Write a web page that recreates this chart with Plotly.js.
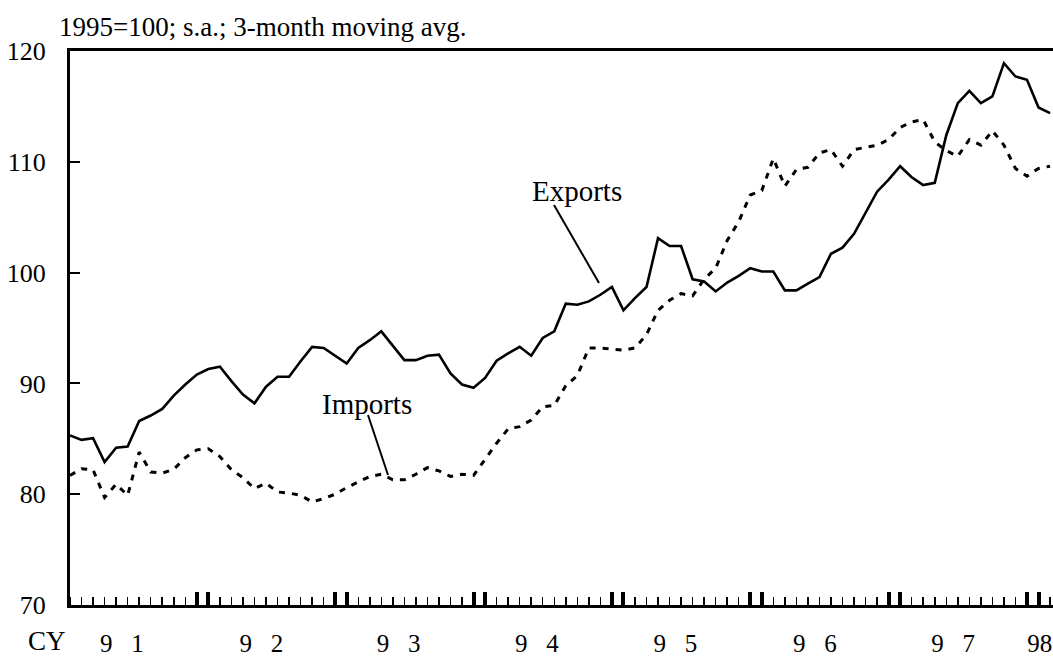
<!DOCTYPE html>
<html>
<head>
<meta charset="utf-8">
<script src="https://cdn.plot.ly/plotly-3.0.1.min.js"></script>
<style>
html, body { margin: 0; padding: 0; overflow: hidden; background: #fff; width: 1053px; height: 659px; }
#chart { width: 1075px; height: 659px; }
</style>
</head>
<body>
<div id="chart"></div>
<script>
// ---- Data (monthly, Jan 1991 – Feb 1998), 1995=100, s.a., 3-month moving avg. ----
const startYear = 1991;
const monthCount = 86;
const months = Array.from({length: monthCount}, (_, i) =>
  (startYear + Math.floor(i / 12)) + '-' + String(i % 12 + 1).padStart(2, '0'));

const exportsIdx = [
  85.3, 84.9, 85.05, 82.9, 84.2, 84.3, 86.6, 87.1, 87.7, 88.9,
  89.9, 90.8, 91.3, 91.5, 90.2, 89.0, 88.2, 89.7, 90.6, 90.6,
  92.0, 93.3, 93.2, 92.5, 91.8, 93.2, 93.9, 94.7, 93.4, 92.1,
  92.1, 92.5, 92.6, 90.9, 89.9, 89.6, 90.5, 92.05, 92.7, 93.3,
  92.5, 94.1, 94.7, 97.2, 97.1, 97.4, 98.0, 98.7, 96.6, 97.7,
  98.7, 103.1, 102.4, 102.4, 99.4, 99.2, 98.3, 99.1, 99.7, 100.4,
  100.1, 100.1, 98.4, 98.4, 99.0, 99.6, 101.7, 102.25, 103.5, 105.35,
  107.3, 108.4, 109.6, 108.6, 107.9, 108.1, 112.4, 115.3, 116.4, 115.3,
  115.9, 118.9, 117.7, 117.4, 114.9, 114.4
];

const importsIdx = [
  81.7, 82.3, 82.2, 79.7, 80.9, 79.9, 83.8, 82.0, 81.9, 82.25,
  83.3, 84.0, 84.1, 83.4, 82.2, 81.5, 80.5, 81.0, 80.2, 80.1,
  79.9, 79.3, 79.6, 80.0, 80.6, 81.1, 81.6, 81.8, 81.3, 81.3,
  81.8, 82.4, 82.1, 81.6, 81.8, 81.7, 83.2, 84.6, 85.9, 86.1,
  86.7, 87.9, 88.0, 89.8, 90.7, 93.2, 93.2, 93.1, 93.0, 93.2,
  94.4, 96.6, 97.5, 98.1, 97.9, 99.4, 100.4, 102.9, 104.6, 107.0,
  107.4, 110.3, 107.8, 109.3, 109.5, 110.8, 111.1, 109.6, 111.1, 111.3,
  111.5, 112.0, 113.1, 113.6, 113.8, 111.8, 111.0, 110.5, 112.0, 111.5,
  112.8, 111.5, 109.4, 108.7, 109.4, 109.6
];

const yearLabels = ['9\u00a0\u00a0\u00a01', '9\u00a0\u00a0\u00a02', '9\u00a0\u00a0\u00a03', '9\u00a0\u00a0\u00a04',
                    '9\u00a0\u00a0\u00a05', '9\u00a0\u00a0\u00a06', '9\u00a0\u00a0\u00a07', '98'];
const yearLabelPos = [4.5, 16.6, 28.5, 40.5, 52.5, 64.6, 76.6, 84.1];
const yTicks = [70, 80, 90, 100, 110, 120];

// ---- derived ----
const xIdx = months.map((_, i) => i);
const monthTicks = xIdx.concat([86]);
const yearTicks = [0];
for (let y = 1; y < 8; y++) { yearTicks.push(12 * y - 1, 12 * y); }

// pixel helpers for text/callouts (plot area: left 70..1065, top 51..605)
const L = 70, R = 1065, T = 51, B = 605;
const px = v => (v - L) / (R - L);
const py = v => (B - v) / (B - T);

const font = '"Liberation Serif", "Times New Roman", Times, serif';

const traces = [
  { x: xIdx, y: exportsIdx, type: 'scatter', mode: 'lines', name: 'Exports',
    line: { color: '#000', width: 2.6 }, hoverinfo: 'skip' },
  { x: xIdx, y: importsIdx, type: 'scatter', mode: 'lines', name: 'Imports',
    line: { color: '#000', width: 3, dash: '6px,7px' }, hoverinfo: 'skip' },
  { x: [0], y: [70], xaxis: 'x2', yaxis: 'y', type: 'scatter', mode: 'markers',
    marker: { opacity: 0 }, hoverinfo: 'skip', showlegend: false }
];

const xRange = [0, (R - L) / 11.53];

const layout = {
  width: 1075, height: 659,
  margin: { l: L, r: 1075 - R, t: T, b: 659 - B, pad: 0 },
  paper_bgcolor: '#fff', plot_bgcolor: '#fff',
  showlegend: false,
  font: { family: font, size: 26, color: '#000' },
  xaxis: {
    range: xRange, showgrid: false, zeroline: false,
    showline: true, linewidth: 3, linecolor: '#000', mirror: true,
    tickmode: 'array', tickvals: yearLabelPos, ticktext: yearLabels,
    ticks: '', ticklabelstandoff: 14,
    tickfont: { family: font, size: 25, color: '#000' },
    minor: { tickmode: 'array', tickvals: monthTicks, ticks: 'inside', ticklen: 8, tickwidth: 1.5, tickcolor: '#000', showgrid: false }
  },
  xaxis2: {
    range: xRange, overlaying: 'x', anchor: 'y', side: 'bottom',
    showgrid: false, zeroline: false, showline: false,
    tickmode: 'array', tickvals: yearTicks, ticks: 'inside', ticklen: 13, tickwidth: 4, tickcolor: '#000',
    showticklabels: false
  },
  yaxis: {
    range: [70, 120], showgrid: false, zeroline: false,
    showline: true, linewidth: 3, linecolor: '#000', mirror: true,
    tickmode: 'array', tickvals: yTicks, ticktext: yTicks.map(String),
    ticks: 'inside', ticklen: 10, tickwidth: 2, tickcolor: '#000',
    ticklabelstandoff: 16,
    tickfont: { family: font, size: 26, color: '#000' }
  },
  annotations: [
    { text: '1995=100; s.a.; 3-month moving avg.', xref: 'paper', yref: 'paper',
      x: px(57), y: py(27), xanchor: 'left', yanchor: 'middle', showarrow: false,
      font: { family: font, size: 27, color: '#000' } },
    { text: 'CY', xref: 'paper', yref: 'paper',
      x: px(26), y: py(658), xanchor: 'left', yanchor: 'bottom', showarrow: false,
      font: { family: font, size: 27, color: '#000' } },
    { text: 'Exports', xref: 'paper', yref: 'paper',
      x: px(530), y: py(191), xanchor: 'left', yanchor: 'middle', showarrow: false,
      font: { family: font, size: 29, color: '#000' } },
    { text: 'Imports', xref: 'paper', yref: 'paper',
      x: px(320), y: py(404), xanchor: 'left', yanchor: 'middle', showarrow: false,
      font: { family: font, size: 29, color: '#000' } }
  ],
  shapes: [
    { type: 'line', xref: 'paper', yref: 'paper', x0: px(554), y0: py(205), x1: px(599), y1: py(283),
      line: { color: '#000', width: 2 } },
    { type: 'line', xref: 'paper', yref: 'paper', x0: px(368), y0: py(415), x1: px(388), y1: py(475),
      line: { color: '#000', width: 2 } }
  ]
};

Plotly.newPlot('chart', traces, layout, { staticPlot: true, displayModeBar: false });
</script>
</body>
</html>
